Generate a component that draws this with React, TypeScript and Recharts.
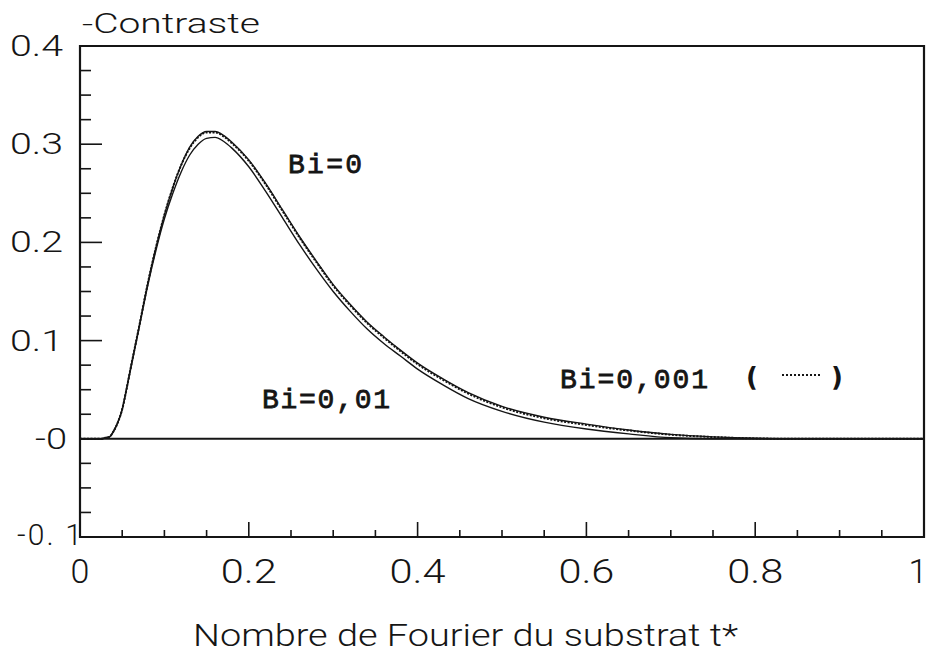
import { LineChart, Line, XAxis, YAxis, ReferenceLine, ReferenceArea } from "recharts"

// Nombre de Fourier du substrat t*
const fourier = [
  0, 0.025, 0.03, 0.035, 0.04, 0.045, 0.05, 0.055, 0.06, 0.065, 0.07, 0.08, 0.09, 0.1, 0.11, 0.12, 0.13,
  0.14, 0.15, 0.16, 0.17, 0.18, 0.2, 0.22, 0.24, 0.26, 0.28, 0.3, 0.32, 0.34, 0.36, 0.38, 0.4, 0.43, 0.46,
  0.5, 0.55, 0.6, 0.65, 0.7, 0.75, 0.8, 0.85, 1,
]
// Bi=0
const contrastBi0 = [
  0, 0, 0.001, 0.002, 0.008, 0.017, 0.03, 0.05, 0.072, 0.093, 0.114, 0.157, 0.195, 0.228, 0.256, 0.279, 0.297,
  0.308, 0.313, 0.313, 0.309, 0.302, 0.284, 0.26, 0.233, 0.206, 0.181, 0.157, 0.137, 0.119, 0.104, 0.09, 0.077,
  0.061, 0.047, 0.033, 0.022, 0.015, 0.009, 0.0045, 0.002, 0.0005, 0, 0,
]
// Bi=0,001 (pointillé)
const contrastBi001 = [
  0, 0, 0.001, 0.002, 0.008, 0.017, 0.03, 0.05, 0.072, 0.093, 0.114, 0.157, 0.195, 0.228, 0.256, 0.279, 0.296,
  0.307, 0.312, 0.312, 0.308, 0.301, 0.283, 0.259, 0.232, 0.205, 0.18, 0.156, 0.136, 0.118, 0.103, 0.089, 0.076,
  0.06, 0.046, 0.032, 0.021, 0.014, 0.0085, 0.0042, 0.0018, 0.0004, 0, 0,
]
// Bi=0,01
const contrastBi01 = [
  0, 0, 0.001, 0.002, 0.008, 0.017, 0.03, 0.05, 0.071, 0.092, 0.113, 0.155, 0.192, 0.224, 0.25, 0.272, 0.289,
  0.3, 0.306, 0.307, 0.303, 0.296, 0.277, 0.252, 0.225, 0.198, 0.173, 0.15, 0.13, 0.112, 0.097, 0.084, 0.071,
  0.055, 0.041, 0.028, 0.017, 0.01, 0.005, 0.001, 0, 0, 0, 0,
]

const xMajor = [0, 0.2, 0.4, 0.6, 0.8, 1]
const xMajorLabels = ["0", "0.2", "0.4", "0.6", "0.8", "1"]
const xMinor = [0.05, 0.1, 0.15, 0.25, 0.3, 0.35, 0.45, 0.5, 0.55, 0.65, 0.7, 0.75, 0.85, 0.9, 0.95]
const yMajor = [0.4, 0.3, 0.2, 0.1, 0, -0.1]
const yMajorLabels = ["0.4", "0.3", "0.2", "0.1", "-0", "-0. 1"]
const yMinor = [
  0.375, 0.35, 0.325, 0.275, 0.25, 0.225, 0.175, 0.15, 0.125, 0.075, 0.05, 0.025, -0.025, -0.05, -0.075,
]

const data = fourier.map((t, i) => ({
  t,
  bi0: contrastBi0[i],
  bi001: contrastBi001[i],
  bi01: contrastBi01[i],
}))

const INK = "#151515"
const plotterFont = { fontFamily: "Roboto", fontWeight: 300 }
const typeFont = { fontFamily: "Liberation Mono", fontWeight: 400, stroke: INK, strokeWidth: 0.8 }

const near = (a: number, b: number) => Math.abs(a - b) < 1e-6

function XTick(props: any) {
  const { x, y, payload } = props
  const idx = xMajor.findIndex((m) => near(m, payload.value))
  const major = idx >= 0
  const label = major ? xMajorLabels[idx] : ""
  const last = idx === xMajor.length - 1
  return (
    <g>
      <line x1={x} x2={x} y1={y} y2={y - (major ? 15 : 7)} stroke={INK} strokeWidth={1.6} />
      {major && (
        <text
          x={last ? x - 6 : x}
          y={y + 46}
          textAnchor="middle"
          fontSize={34}
          fill={INK}
          textLength={label.length > 1 ? 56 : undefined}
          lengthAdjust="spacingAndGlyphs"
          {...plotterFont}
        >
          {label}
        </text>
      )}
    </g>
  )
}

function YTick(props: any) {
  const { x, y, payload } = props
  const idx = yMajor.findIndex((m) => near(m, payload.value))
  const major = idx >= 0
  const last = idx === yMajor.length - 1
  const label = major ? yMajorLabels[idx] : ""
  const width = last ? 65 : label.length === 2 ? 32 : 53
  return (
    <g>
      <line x1={x} x2={x + (major ? 22 : 11)} y1={y} y2={y} stroke={INK} strokeWidth={1.6} />
      {major && (
        <text
          x={last ? x - 63 : label.length === 2 ? x - 45 : x - 70}
          y={last ? y + 8 : y + 10}
          fontSize={30}
          fill={INK}
          textLength={width}
          lengthAdjust={last ? "spacing" : "spacingAndGlyphs"}
          {...plotterFont}
        >
          {label}
        </text>
      )}
    </g>
  )
}

export default function App() {
  return (
    <div style={{ position: "absolute", left: 0, top: 0, width: 928, height: 664, background: "#fff" }}>
      <LineChart width={928} height={664} data={data} margin={{ top: 46, right: 4, bottom: 0, left: 0 }}>
        <XAxis
          dataKey="t"
          type="number"
          domain={[0, 1]}
          ticks={[...xMajor, ...xMinor].sort((a, b) => a - b)}
          tick={<XTick />}
          tickLine={false}
          axisLine={false}
          tickSize={0}
          tickMargin={0}
          height={127}
          interval={0}
        />
        <YAxis
          type="number"
          domain={[-0.1, 0.4]}
          ticks={[...yMajor, ...yMinor].sort((a, b) => a - b)}
          tick={<YTick />}
          tickLine={false}
          axisLine={false}
          tickSize={0}
          tickMargin={0}
          width={80}
          interval={0}
          allowDataOverflow
        />
        <ReferenceArea x1={0} x2={1} y1={-0.1} y2={0.4} fill="none" stroke={INK} strokeWidth={2.2} />
        <ReferenceLine y={0} stroke={INK} strokeWidth={2} />
        <Line
          dataKey="bi001"
          type="monotone"
          stroke={INK}
          strokeWidth={2}
          strokeDasharray="2 1.5"
          dot={false}
          isAnimationActive={false}
        />
        <Line dataKey="bi0" type="monotone" stroke={INK} strokeWidth={1.4} dot={false} isAnimationActive={false} />
        <Line dataKey="bi01" type="monotone" stroke={INK} strokeWidth={1.4} dot={false} isAnimationActive={false} />
      </LineChart>
      <svg
        width={928}
        height={664}
        style={{ position: "absolute", left: 0, top: 0, pointerEvents: "none" }}
      >
        <text x={82} y={33} fontSize={27} fill={INK} textLength={178} lengthAdjust="spacingAndGlyphs" {...plotterFont}>
          -Contraste
        </text>
        <text x={193} y={646} fontSize={32} fill={INK} textLength={545} lengthAdjust="spacingAndGlyphs" {...plotterFont}>
          Nombre de Fourier du substrat t*
        </text>
        <text x={288} y={173} fontSize={28} fill={INK} textLength={74} lengthAdjust="spacing" {...typeFont}>
          Bi=0
        </text>
        <text x={262} y={408} fontSize={28} fill={INK} textLength={128} lengthAdjust="spacing" {...typeFont}>
          Bi=0,01
        </text>
        <text x={560} y={388} fontSize={28} fill={INK} textLength={148} lengthAdjust="spacing" {...typeFont}>
          Bi=0,001
        </text>
        <text x={746} y={386} fontSize={26} fill={INK} fontFamily="DejaVu Sans" fontWeight={700}>
          (
        </text>
        <line x1={782} x2={822} y1={375} y2={375} stroke={INK} strokeWidth={1.8} strokeDasharray="2 2" />
        <text x={831} y={386} fontSize={26} fill={INK} fontFamily="DejaVu Sans" fontWeight={700}>
          )
        </text>
      </svg>
    </div>
  )
}
